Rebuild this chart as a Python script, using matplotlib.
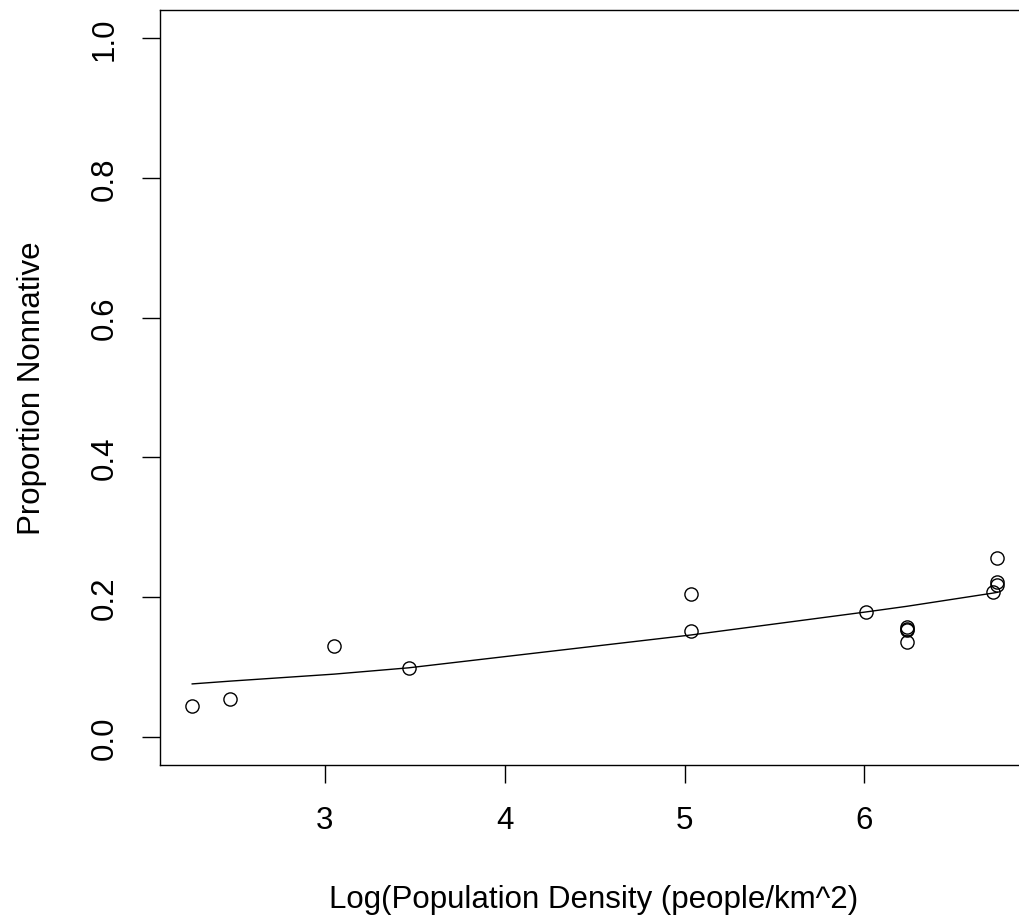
import numpy as np
import matplotlib.pyplot as plt

# === Data ===
log_density = [2.264, 2.476, 3.053, 3.466, 5.036, 5.036, 6.010, 6.235, 6.235,
               6.235, 6.235, 6.716, 6.738, 6.738, 6.738]
prop_nonnative = [0.044, 0.055, 0.130, 0.099, 0.205, 0.151, 0.179, 0.158, 0.155,
                  0.153, 0.136, 0.207, 0.217, 0.222, 0.256]

# fitted curve (values read at the sorted x of the data)
fit_x = [2.264, 2.476, 3.053, 3.466, 5.036, 6.010, 6.235, 6.716, 6.738]
fit_y = [0.076, 0.080, 0.090, 0.099, 0.146, 0.179, 0.187, 0.206, 0.207]

x_ticks = [3, 4, 5, 6]
y_ticks = [0.0, 0.2, 0.4, 0.6, 0.8, 1.0]

plt.rcParams['font.family'] = ['Liberation Sans', 'DejaVu Sans']
fs = 22.5

fig = plt.figure(figsize=(10.19, 9.2), dpi=100)
# the right side of the R plot box is cut off in the original image
ax = fig.add_axes([160 / 1019, (920 - 766) / 920, (1029.5 - 160) / 1019, (766 - 11) / 920])

ax.plot(log_density, prop_nonnative, 'o', mfc='none', mec='black', mew=1.0, ms=9.5)
ax.plot(fit_x, fit_y, '-', color='black', lw=1.0)

# R style axis ranges: 4% padding
xr = max(log_density) - min(log_density)
ax.set_xlim(min(log_density) - 0.04 * xr, max(log_density) + 0.04 * xr)
ax.set_ylim(-0.04, 1.04)

ax.set_xticks(x_ticks)
ax.set_xticklabels([str(t) for t in x_ticks], fontsize=fs)
ax.set_yticks(y_ticks)
ax.set_yticklabels([f"{t:.1f}" for t in y_ticks], fontsize=fs, rotation=90, va='center')

ax.tick_params(axis='both', direction='out', length=13, width=1.0, color='black')
ax.tick_params(axis='x', pad=16)
ax.tick_params(axis='y', pad=16)

for s in ax.spines.values():
    s.set_linewidth(1.0)
    s.set_color('black')

fig.text(594 / 1019, 1 - 900 / 920, "Log(Population Density (people/km^2)",
         ha='center', va='center', fontsize=fs)
fig.text(32 / 1019, 1 - 388 / 920, "Proportion Nonnative",
         ha='center', va='center', rotation=90, fontsize=fs)

fig.savefig("out.png", dpi=100)
plt.close()
